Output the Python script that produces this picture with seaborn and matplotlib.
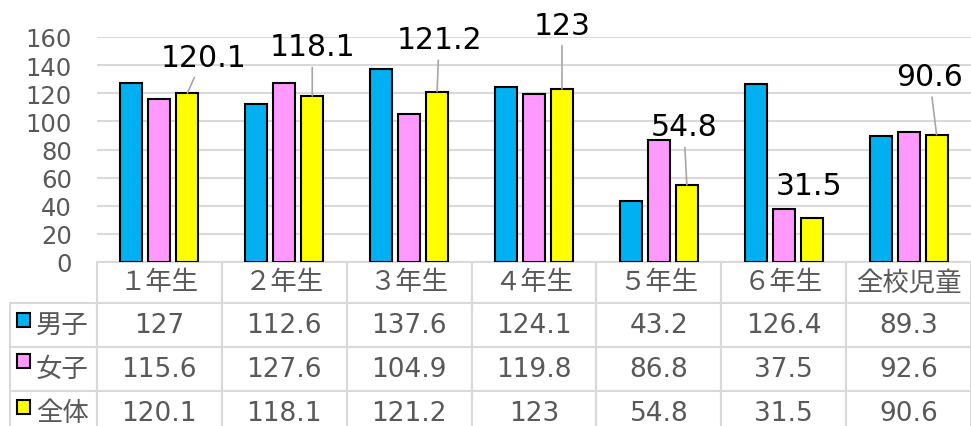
import pandas as pd
import matplotlib.pyplot as plt
import seaborn as sns
from matplotlib.patches import Rectangle

# データ
grades = ['１年生', '２年生', '３年生', '４年生', '５年生', '６年生', '全校児童']
series = ['男子', '女子', '全体']
boys = [127, 112.6, 137.6, 124.1, 43.2, 126.4, 89.3]
girls = [115.6, 127.6, 104.9, 119.8, 86.8, 37.5, 92.6]
total = [120.1, 118.1, 121.2, 123, 54.8, 31.5, 90.6]

colors = ['#00B0F0', '#FF99FF', '#FFFF00']
grid_col = '#d9d9d9'
text_col = '#595959'

# 全体ラベルの位置 (棒の上端からのずれ, px) と引き出し線の有無
label_offsets = [(16, 36), (0, 49), (2, 52), (0, 64), (-3, 58), (-3, 32), (-7, 58)]
leader = [True, True, True, True, True, False, True]

sns.set_style('white')
plt.rcParams['font.family'] = ['DejaVu Sans', 'Noto Sans CJK JP']

df = pd.DataFrame({
    'grade': grades * 3,
    'series': [s for s in series for _ in grades],
    'value': boys + girls + total,
})

fig = plt.figure(figsize=(9.71, 4.27), dpi=100)
ax = fig.add_axes([97 / 971, 1 - 263 / 427, 874 / 971, 225 / 427])

sns.barplot(data=df, x='grade', y='value', hue='series', order=grades,
            hue_order=series, palette=colors, saturation=1, width=0.672, gap=0.214,
            edgecolor='black', linewidth=1.5, legend=False, ax=ax)

ax.set_ylim(0, 160)
ax.set_xlim(-0.5, 6.5)
ax.set_yticks(range(0, 161, 20))
ax.set_xticks([])
ax.set_xlabel('')
ax.set_ylabel('')
ax.yaxis.grid(True, color=grid_col, lw=1.5)
ax.set_axisbelow(True)
for s in ax.spines.values():
    s.set_visible(False)
ax.tick_params(axis='y', length=0, pad=18, labelsize=17.5, labelcolor=text_col)

# 全体のデータラベル
for p, v, (dx, dy), ln in zip(ax.containers[2], total, label_offsets, leader):
    xc = p.get_x() + p.get_width() / 2
    ax.annotate(f'{v:g}', xy=(xc, p.get_height()), xytext=(dx, dy),
                textcoords='offset pixels', ha='center', va='center',
                fontsize=21.5, color='black',
                arrowprops=dict(arrowstyle='-', color='#a6a6a6', lw=1.2,
                                shrinkA=2, shrinkB=0) if ln else None)

# データテーブル
cell_text = [[''] + grades]
for s, vals in zip(series, [boys, girls, total]):
    cell_text.append([s] + [f'{v:g}' for v in vals])

widths = [87] + [125] * 7
tbl = ax.table(cellText=cell_text, cellLoc='center',
               colWidths=[w / sum(widths) for w in widths],
               bbox=[-87 / 874, -173 / 225, 961 / 874, 173 / 225])
tbl.auto_set_font_size(False)
tbl.set_fontsize(19)
for (r, c), cell in tbl.get_celld().items():
    cell.set_height(41 if r == 0 else 44)
    cell.set_edgecolor(grid_col)
    cell.set_linewidth(1.5)
    cell.get_text().set_color(text_col)
    if r == 0 and c == 0:
        cell.set_edgecolor('none')
    elif c == 0:
        cell.PAD = 0.3
        cell._loc = 'left'
        cell.get_text().set_ha('left')

# 凡例マーカー
for (y0, y1), col in zip([(314, 328), (355, 369), (401, 415)], colors):
    fig.add_artist(Rectangle((17 / 971, 1 - y1 / 427), 13 / 971, (y1 - y0) / 427,
                             transform=fig.transFigure, facecolor=col,
                             edgecolor='black', lw=1.5))

fig.savefig('out.png', dpi=100)
